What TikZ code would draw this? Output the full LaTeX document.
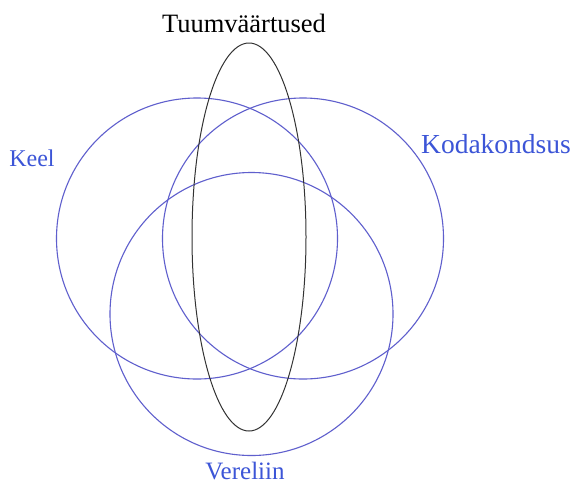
\documentclass[tikz,border=0pt]{standalone}
\usepackage{fontspec}
\setmainfont{Liberation Serif}
\usetikzlibrary{shapes.geometric}
\definecolor{ringblue}{RGB}{95,95,205}
\definecolor{labelblue}{RGB}{60,85,215}
\begin{document}
\begin{tikzpicture}[x=1pt,y=-1pt,
  ring/.style={circle,draw=ringblue,line width=1.1pt,inner sep=0pt,minimum size=#1},
  oval/.style={ellipse,draw=black!80,line width=1pt,inner sep=0pt,minimum width=114pt,minimum height=388pt},
  lbl/.style={font=\fontsize{#1}{30}\selectfont,inner sep=0pt,anchor=base}]
\useasboundingbox[fill=white] (0,0) rectangle (575,483);
\node[ring=281pt] (keel) at (197,238.5) {};
\node[ring=281pt] (koda) at (303,238.5) {};
\node[ring=283pt] (vere) at (251.5,314) {};
\node[oval] (tuum) at (249,237) {};
\node[lbl=26.5,text=black] (ttuum) at (244,32) {Tuumväärtused};
\node[lbl=24,text=labelblue] (tkeel) at (32,166) {Keel};
\node[lbl=27.5,text=labelblue] (tkoda) at (496,153) {Kodakondsus};
\node[lbl=25,text=labelblue] (tvere) at (245,479) {Vereliin};
\end{tikzpicture}
\end{document}
